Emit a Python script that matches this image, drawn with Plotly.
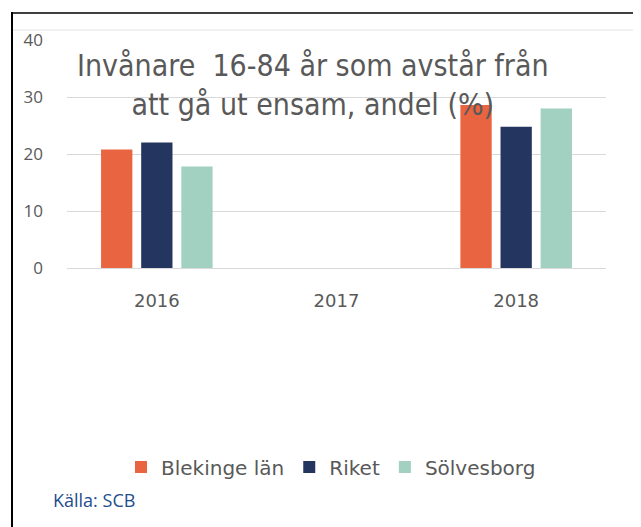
import plotly.graph_objects as go

years = ["2016", "2017", "2018"]
blekinge = [20.8, None, 28.6]
riket = [22, None, 24.8]
solvesborg = [17.8, None, 28]
series_names = ["Blekinge län", "Riket", "Sölvesborg"]
colors = ["#E96441", "#243660", "#A2D0C1"]
y_ticks = [0, 10, 20, 30, 40]

OFF = 8  # page body margin
W, H = 641 - OFF, 527 - OFF
# plot area in page pixels
PX0, PX1, PY0, PY1 = 67, 606, 40, 268
L, R, T, B = PX0 - OFF, W - (PX1 - OFF), PY0 - OFF, H - (PY1 - OFF)
PW = W - L - R
PH = H - T - B

def px(x):
    return (x - OFF - L) / PW

def py(y):
    return (PY1 - y) / PH

fig = go.Figure()
for name, vals, c in zip(series_names, [blekinge, riket, solvesborg], colors):
    fig.add_trace(go.Bar(x=years, y=vals, name=name, marker_color=c, marker_line_width=0))

fig.update_layout(
    width=W, height=H,
    margin=dict(l=L, r=R, t=T, b=B, autoexpand=False),
    paper_bgcolor="white", plot_bgcolor="white",
    barmode="group", bargap=0.33, bargroupgap=0.22,
    showlegend=True,
    legend=dict(orientation="h", x=px(331), xanchor="center", y=py(467), yanchor="middle",
                font=dict(family="DejaVu Sans", size=20, color="#595959"),
                itemwidth=30, traceorder="normal"),
    font=dict(family="DejaVu Sans", color="#595959"),
)
fig.update_xaxes(showline=False, showgrid=False, ticks="", ticklabelstandoff=20,
                 tickfont=dict(family="DejaVu Sans", size=18, color="#595959"))
fig.update_yaxes(range=[0, 40], tickvals=y_ticks, showgrid=True, gridcolor="#D9D9D9",
                 gridwidth=1, zeroline=True, zerolinecolor="#D9D9D9", zerolinewidth=1,
                 showline=False, ticks="", ticklabelstandoff=23,
                 tickfont=dict(family="Open Sans", size=17, color="#595959"))

fig.add_annotation(xref="paper", yref="paper", x=px(313), y=py(85), xanchor="center", yanchor="middle",
                   text="Invånare  16-84 år som avstår från<br>att gå ut ensam, andel (%)",
                   showarrow=False, font=dict(family="DejaVu Sans Condensed", size=30, color="#595959"))
fig.add_annotation(xref="paper", yref="paper", x=px(51), y=py(500), xanchor="left", yanchor="middle",
                   text="Källa: SCB", showarrow=False,
                   font=dict(family="Open Sans", size=18, color="#1F4E8C"))

# frame lines
fig.add_shape(type="line", xref="paper", yref="paper", x0=px(11), x1=px(641), y0=py(13), y1=py(13),
              line=dict(color="black", width=1.5))
fig.add_shape(type="line", xref="paper", yref="paper", x0=px(12), x1=px(641), y0=py(30), y1=py(30),
              line=dict(color="#E3E3E3", width=1))
fig.add_shape(type="line", xref="paper", yref="paper", x0=px(12), x1=px(12), y0=py(12), y1=py(527),
              line=dict(color="black", width=2))

fig.write_html("out.html")
